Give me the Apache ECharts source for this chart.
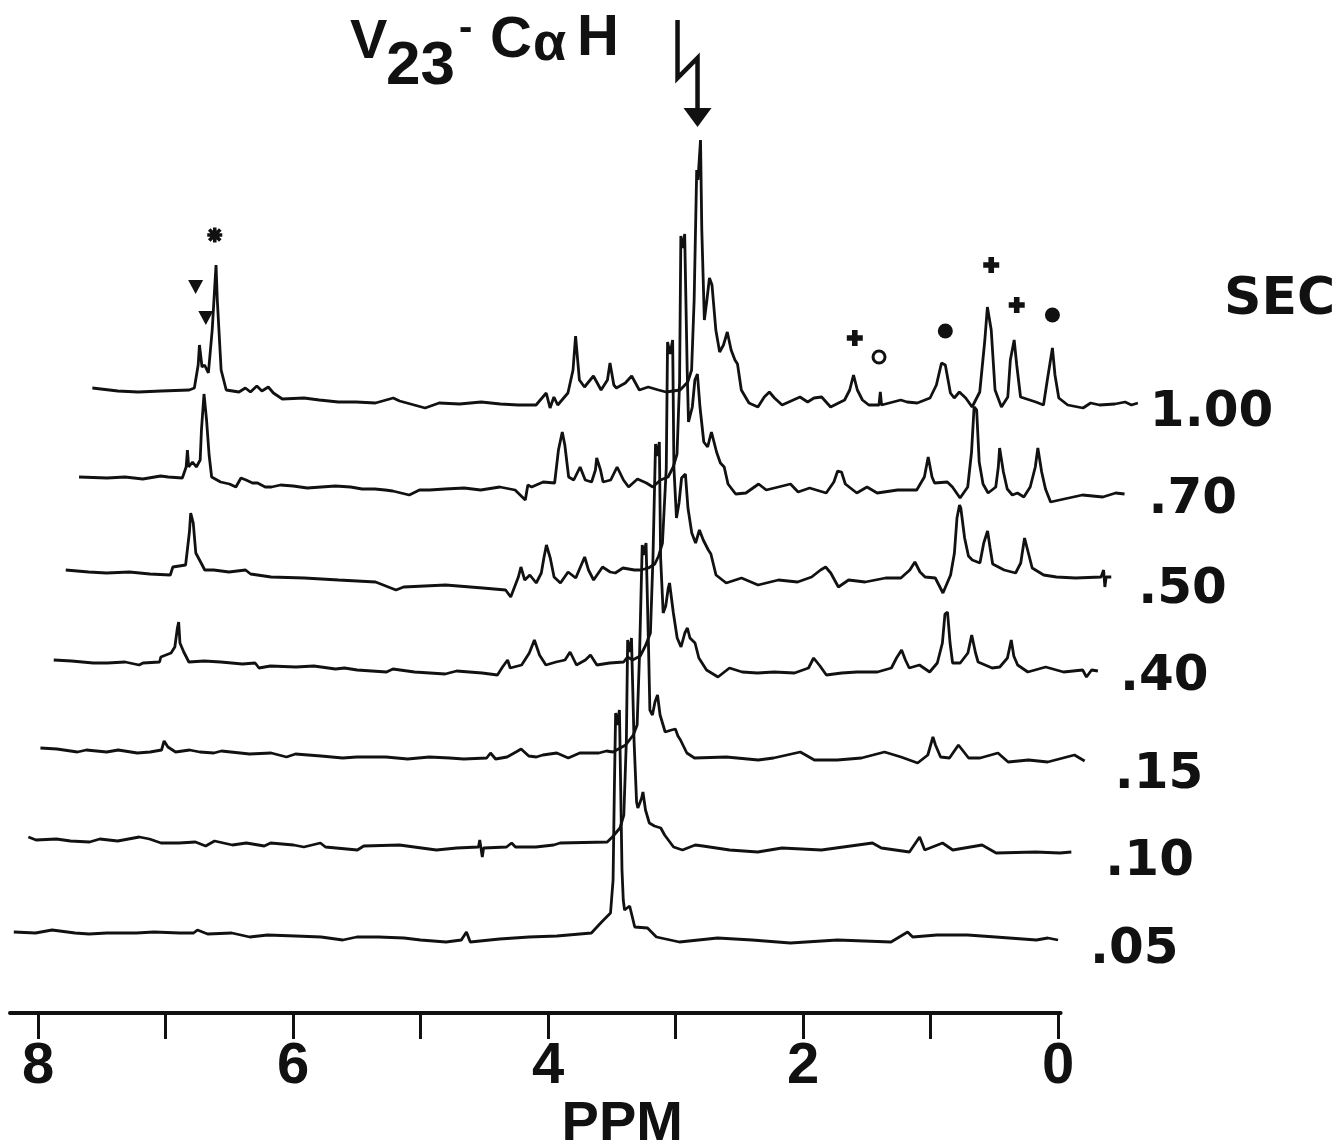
<!DOCTYPE html>
<html>
<head>
<meta charset="utf-8">
<title>V23-CαH time course</title>
<script src="https://cdn.jsdelivr.net/npm/echarts@6.0.0/dist/echarts.min.js"></script>
<style>
  html, body { margin: 0; padding: 0; background: #fff; }
  #chart { width: 1335px; height: 1144px; }
</style>
</head>
<body>
<div id="chart"></div>
<script>
// mixing times in seconds, bottom spectrum first
const secLabels = ['.05', '.10', '.15', '.40', '.50', '.70', '1.00'];

// ppm axis
const ppmTicks = [0, 1, 2, 3, 4, 5, 6, 7, 8];
const ppmLabels = [0, 2, 4, 6, 8];

// spectra as [ppm, intensity]
const spec005 = [[8.19,8],[8.02,7],[7.89,10],[7.71,7],[7.60,6],[7.46,7],[7.23,7],[7.09,8],[6.89,7],[6.78,7],[6.75,10],[6.67,6],[6.48,7],[6.34,3],[6.20,5],[5.98,4],[5.78,3],[5.61,0],[5.50,3],[5.33,3],[5.13,2],[5.00,0],[4.80,-2],[4.68,0],[4.64,8],[4.61,-2],[4.38,1],[4.15,3],[3.93,4],[3.66,7],[3.58,18],[3.51,27],[3.49,60],[3.48,150],[3.47,227],[3.46,215],[3.44,230],[3.43,150],[3.42,70],[3.41,40],[3.40,30],[3.36,34],[3.32,13],[3.22,12],[3.15,3],[2.97,-2],[2.67,2],[2.40,0],[2.10,-3],[1.73,0],[1.31,-2],[1.18,8],[1.14,3],[0.95,5],[0.71,5],[0.49,3],[0.17,0],[0.08,2],[0.00,0]];
const spec010 = [[8.18,13],[8.12,10],[7.96,11],[7.85,9],[7.70,8],[7.62,11],[7.48,9],[7.31,13],[7.23,11],[7.14,7],[7.00,7],[6.87,8],[6.79,4],[6.72,9],[6.58,5],[6.47,7],[6.33,4],[6.28,7],[6.10,5],[6.02,3],[5.89,7],[5.85,3],[5.60,0],[5.55,4],[5.27,5],[4.98,0],[4.82,2],[4.65,3],[4.64,10],[4.62,-7],[4.61,2],[4.43,3],[4.39,7],[4.36,3],[4.20,3],[4.06,5],[4.01,7],[3.64,8],[3.60,13],[3.54,22],[3.51,35],[3.49,110],[3.48,210],[3.46,198],[3.45,212],[3.43,110],[3.41,48],[3.40,42],[3.37,52],[3.36,58],[3.34,40],[3.31,27],[3.27,24],[3.22,22],[3.19,15],[3.12,3],[3.05,0],[2.95,5],[2.89,4],[2.68,0],[2.46,-2],[2.27,2],[1.96,0],[1.56,7],[1.49,2],[1.27,-2],[1.19,13],[1.15,0],[1.01,7],[0.93,0],[0.70,5],[0.59,-3],[0.28,-2],[0.09,-3],[0.00,-2]];
const spec015 = [[8.19,12],[8.06,11],[7.90,8],[7.83,10],[7.67,8],[7.58,10],[7.43,7],[7.33,8],[7.24,10],[7.22,19],[7.19,13],[7.13,8],[7.02,10],[6.94,8],[6.83,7],[6.77,9],[6.55,6],[6.38,7],[6.26,3],[6.19,6],[5.99,4],[5.82,2],[5.71,3],[5.48,3],[5.31,1],[5.14,3],[4.98,2],[4.87,1],[4.69,2],[4.66,7],[4.62,1],[4.53,3],[4.46,8],[4.42,11],[4.36,4],[4.30,3],[4.25,5],[4.14,7],[4.05,2],[3.96,7],[3.81,7],[3.75,9],[3.70,8],[3.60,15],[3.54,25],[3.51,35],[3.49,110],[3.47,215],[3.46,205],[3.44,217],[3.42,110],[3.41,50],[3.39,45],[3.37,58],[3.35,65],[3.33,45],[3.29,28],[3.24,30],[3.21,31],[3.19,24],[3.17,20],[3.12,7],[3.06,2],[2.81,3],[2.56,0],[2.44,2],[2.23,8],[2.12,0],[1.94,0],[1.75,2],[1.57,8],[1.44,3],[1.31,-3],[1.23,5],[1.19,23],[1.17,15],[1.13,3],[1.06,2],[0.99,15],[0.91,2],[0.82,2],[0.68,7],[0.60,-2],[0.44,0],[0.29,-2],[0.08,5],[0.00,-1]];
const spec040 = [[8.19,8],[8.05,7],[7.88,5],[7.77,5],[7.63,6],[7.52,3],[7.49,5],[7.36,6],[7.35,11],[7.27,15],[7.24,21],[7.22,40],[7.21,46],[7.20,25],[7.17,16],[7.13,6],[7.01,7],[6.88,6],[6.71,4],[6.61,5],[6.58,0],[6.49,2],[6.29,1],[6.15,2],[5.98,-1],[5.91,0],[5.81,-2],[5.58,-4],[5.53,-1],[5.36,-4],[5.12,-6],[5.03,-3],[4.83,-5],[4.71,-7],[4.67,1],[4.63,8],[4.61,0],[4.52,3],[4.46,15],[4.42,28],[4.38,13],[4.33,3],[4.25,6],[4.18,8],[4.14,16],[4.09,3],[4.02,8],[3.98,13],[3.93,3],[3.83,5],[3.72,6],[3.69,11],[3.65,8],[3.59,12],[3.55,22],[3.51,35],[3.49,110],[3.47,224],[3.46,212],[3.44,226],[3.43,110],[3.41,55],[3.39,62],[3.37,80],[3.36,85],[3.33,55],[3.30,30],[3.27,21],[3.24,35],[3.22,40],[3.20,30],[3.16,25],[3.13,10],[3.07,-2],[2.98,-9],[2.89,0],[2.79,-4],[2.67,-5],[2.54,-4],[2.38,-5],[2.27,0],[2.23,10],[2.18,2],[2.13,-7],[2.01,-5],[1.89,-4],[1.73,-4],[1.62,0],[1.58,10],[1.54,18],[1.51,8],[1.48,0],[1.40,3],[1.32,-4],[1.26,5],[1.22,25],[1.20,54],[1.18,56],[1.16,25],[1.14,5],[1.08,5],[1.02,15],[0.99,33],[0.96,15],[0.94,6],[0.83,0],[0.77,1],[0.71,10],[0.68,28],[0.66,12],[0.63,3],[0.55,-4],[0.41,1],[0.27,-4],[0.12,-2],[0.09,-9],[0.05,-2],[0.00,-3]];
const spec050 = [[8.20,8],[8.02,6],[7.88,5],[7.70,6],[7.54,4],[7.38,3],[7.36,11],[7.26,13],[7.23,46],[7.22,65],[7.20,55],[7.18,25],[7.13,13],[7.11,8],[7.04,8],[6.92,6],[6.79,8],[6.75,4],[6.59,1],[6.33,0],[6.06,-2],[5.77,-4],[5.61,-12],[5.55,-9],[5.22,-7],[4.93,-10],[4.75,-12],[4.71,-19],[4.65,1],[4.63,11],[4.60,-2],[4.56,3],[4.51,-5],[4.47,5],[4.45,20],[4.43,33],[4.40,20],[4.37,1],[4.32,-5],[4.26,6],[4.20,0],[4.16,12],[4.13,21],[4.10,8],[4.06,-2],[3.99,11],[3.93,6],[3.89,5],[3.83,10],[3.74,8],[3.69,8],[3.63,10],[3.58,14],[3.55,22],[3.52,35],[3.49,110],[3.48,236],[3.46,224],[3.44,238],[3.43,110],[3.41,60],[3.39,75],[3.37,100],[3.34,104],[3.32,70],[3.29,45],[3.26,35],[3.23,48],[3.20,38],[3.16,28],[3.14,24],[3.10,3],[3.02,-5],[2.90,0],[2.77,-7],[2.61,-2],[2.46,-4],[2.35,1],[2.28,8],[2.24,11],[2.20,5],[2.14,-9],[2.06,-2],[1.93,-4],[1.77,0],[1.65,0],[1.58,8],[1.54,16],[1.50,6],[1.46,1],[1.38,0],[1.32,-15],[1.26,3],[1.23,25],[1.21,60],[1.19,73],[1.18,70],[1.15,40],[1.12,22],[1.09,18],[1.03,15],[1.00,35],[0.97,47],[0.95,30],[0.93,14],[0.84,8],[0.75,5],[0.71,15],[0.68,40],[0.65,25],[0.62,10],[0.53,3],[0.43,1],[0.28,0],[0.08,1],[0.06,8],[0.05,-9],[0.04,1],[0.00,1]];
const spec070 = [[8.20,15],[7.98,14],[7.84,15],[7.70,13],[7.56,16],[7.50,15],[7.39,14],[7.36,25],[7.35,42],[7.34,25],[7.31,30],[7.28,25],[7.25,32],[7.24,62],[7.22,98],[7.20,72],[7.18,37],[7.16,15],[7.09,10],[7.02,8],[6.97,5],[6.93,14],[6.89,12],[6.84,9],[6.80,9],[6.74,5],[6.69,5],[6.62,7],[6.52,6],[6.41,4],[6.30,5],[6.19,6],[6.07,5],[5.98,3],[5.88,3],[5.80,2],[5.74,1],[5.61,-3],[5.53,2],[5.45,2],[5.33,3],[5.18,4],[5.05,2],[4.90,5],[4.78,2],[4.70,-8],[4.68,7],[4.65,5],[4.56,10],[4.47,9],[4.44,42],[4.41,60],[4.39,47],[4.36,15],[4.32,12],[4.27,25],[4.23,12],[4.18,10],[4.15,22],[4.14,34],[4.11,22],[4.09,10],[4.03,12],[3.98,25],[3.93,12],[3.89,5],[3.82,13],[3.75,9],[3.70,5],[3.64,12],[3.58,15],[3.54,25],[3.51,38],[3.49,110],[3.48,256],[3.46,244],[3.45,258],[3.43,120],[3.42,70],[3.39,85],[3.37,112],[3.35,118],[3.33,85],[3.30,50],[3.27,45],[3.24,60],[3.20,40],[3.17,29],[3.14,25],[3.11,8],[3.05,-2],[2.97,-1],[2.87,8],[2.81,2],[2.62,8],[2.56,0],[2.47,4],[2.34,-1],[2.28,10],[2.25,21],[2.22,20],[2.19,8],[2.10,-1],[2.02,5],[1.94,-1],[1.78,2],[1.63,2],[1.57,15],[1.54,35],[1.51,15],[1.49,9],[1.39,10],[1.35,5],[1.29,-6],[1.23,5],[1.20,40],[1.18,85],[1.16,82],[1.14,30],[1.11,8],[1.07,-1],[1.01,5],[0.99,25],[0.98,44],[0.95,20],[0.92,3],[0.88,-3],[0.84,-1],[0.79,-5],[0.74,5],[0.70,25],[0.68,44],[0.65,20],[0.62,3],[0.58,-10],[0.51,-8],[0.33,-3],[0.17,-5],[0.07,-1],[0.00,-2]];
const spec100 = [[8.20,17],[8.00,14],[7.84,13],[7.66,14],[7.44,15],[7.40,17],[7.37,40],[7.36,60],[7.34,38],[7.32,40],[7.29,32],[7.26,75],[7.23,140],[7.22,105],[7.19,35],[7.15,15],[7.05,13],[7.00,17],[6.96,13],[6.91,19],[6.87,14],[6.82,18],[6.78,12],[6.71,6],[6.54,7],[6.42,5],[6.27,3],[6.13,3],[5.98,2],[5.84,7],[5.79,4],[5.59,-3],[5.48,2],[5.32,1],[5.15,3],[5.00,1],[4.86,0],[4.72,0],[4.64,12],[4.61,-3],[4.58,8],[4.55,0],[4.47,12],[4.43,35],[4.41,69],[4.38,25],[4.34,18],[4.27,29],[4.21,15],[4.16,25],[4.14,42],[4.11,20],[4.09,17],[4.02,22],[3.97,29],[3.91,15],[3.84,18],[3.76,15],[3.70,13],[3.59,15],[3.53,23],[3.50,35],[3.48,105],[3.46,235],[3.45,225],[3.43,265],[3.42,175],[3.40,85],[3.38,105],[3.36,127],[3.34,120],[3.31,75],[3.28,53],[3.25,60],[3.22,73],[3.19,55],[3.16,45],[3.14,41],[3.11,15],[3.05,2],[2.98,-2],[2.93,8],[2.89,13],[2.85,7],[2.79,0],[2.65,8],[2.59,3],[2.54,7],[2.48,8],[2.41,-2],[2.30,5],[2.26,15],[2.23,30],[2.20,15],[2.16,5],[2.11,0],[2.03,0],[2.02,13],[2.01,0],[1.86,5],[1.81,3],[1.73,2],[1.63,7],[1.58,20],[1.54,42],[1.51,40],[1.47,12],[1.44,7],[1.40,13],[1.35,7],[1.30,-2],[1.24,13],[1.20,65],[1.18,98],[1.15,75],[1.12,15],[1.07,-2],[1.02,8],[1.00,45],[0.97,65],[0.95,40],[0.92,8],[0.80,3],[0.74,0],[0.71,25],[0.67,57],[0.65,30],[0.62,7],[0.55,0],[0.43,-3],[0.37,2],[0.30,0],[0.18,1],[0.10,3],[0.05,0],[0.00,2]];

const spectra = [spec005, spec010, spec015, spec040, spec050, spec070, spec100];

// assignment marks drawn above peaks of the 1.00 s spectrum: [ppm, height, kind]
const peakMarks = [[7.39,118,'tri'],[7.31,87,'tri'],[7.24,170,'star'],[2.22,67,'plus'],[2.03,48,'ring'],[1.51,74,'dot'],[1.15,140,'plus'],[0.95,100,'plus'],[0.67,90,'dot']];

// ---- layout ----
const INK = '#111';
const PX_PER_PPM = 127.5;
const X_MIN = -0.02, X_MAX = 8.22;
const GRID_LEFT = 10, SKEW_X = 13.3;
const baselineY = [940, 850, 760, 668, 578, 492, 405];
const Y_MAX = 270, Y_MIN = -30;
const AXIS_Y = 1013;
const labelOffsets = [[32, 10], [34, 10], [30, 14], [22, 6], [27, 13], [24, 6], [12, 10]];

const ASTERISK = 'path://M7.6,0h4.8v20h-4.8z M0,7.6h20v4.8h-20z M4.3,0.9L19.1,15.7L15.7,19.1L0.9,4.3z M15.7,0.9L19.1,4.3L4.3,19.1L0.9,15.7z';
const PLUS = 'path://M6.5,0h7v6.5h6.5v7h-6.5v6.5h-7v-6.5h-6.5v-7h6.5z';
const markStyle = {
  tri: { symbol: 'triangle', symbolSize: [15, 14], symbolRotate: 180 },
  star: { symbol: ASTERISK, symbolSize: 15 },
  plus: { symbol: PLUS, symbolSize: 16 },
  dot: { symbol: 'circle', symbolSize: 15 },
  ring: { symbol: 'circle', symbolSize: 12, itemStyle: { color: '#fff', borderColor: INK, borderWidth: 3 } }
};

const chart = echarts.init(document.getElementById('chart'));

const gridW = (X_MAX - X_MIN) * PX_PER_PPM;
const grids = [], xAxes = [], yAxes = [], series = [];

spectra.forEach((data, i) => {
  const isBottom = i === 0;
  const yMin = isBottom ? -(AXIS_Y - baselineY[0]) : Y_MIN;
  grids.push({
    left: GRID_LEFT + SKEW_X * i,
    width: gridW,
    top: baselineY[i] - Y_MAX,
    height: Y_MAX - yMin,
    outerBoundsMode: 'none',
    containLabel: false
  });
  xAxes.push({
    gridIndex: i,
    type: 'value',
    min: X_MIN,
    max: X_MAX,
    inverse: true,
    show: isBottom,
    splitLine: { show: false },
    axisLine: { show: true, onZero: false, lineStyle: { color: INK, width: 4 } },
    axisTick: { show: true, length: 26, lineStyle: { color: INK, width: 3 }, customValues: ppmTicks },
    axisLabel: {
      customValues: ppmLabels,
      margin: 25,
      color: INK,
      fontFamily: 'Liberation Sans',
      fontWeight: 'bold',
      fontSize: 58
    },
    name: isBottom ? 'PPM' : '',
    nameLocation: 'middle',
    nameGap: 82,
    nameTextStyle: {
      color: INK,
      fontFamily: 'Liberation Sans',
      fontWeight: 'bold',
      fontSize: 56,
      padding: [0, 0, 0, 174]
    }
  });
  yAxes.push({
    gridIndex: i,
    type: 'value',
    min: yMin,
    max: Y_MAX,
    show: false,
    splitLine: { show: false }
  });
  const s = {
    type: 'line',
    name: secLabels[i],
    xAxisIndex: i,
    yAxisIndex: i,
    data: data,
    symbol: 'none',
    clip: false,
    silent: true,
    lineStyle: { color: INK, width: 2.8 },
    endLabel: {
      show: true,
      formatter: (p) => p.seriesName,
      distance: 0,
      offset: labelOffsets[i],
      align: 'left',
      verticalAlign: 'middle',
      color: INK,
      fontFamily: 'DejaVu Sans',
      fontWeight: 'bold',
      fontSize: 50
    }
  };
  if (i === spectra.length - 1) {
    s.markPoint = {
      silent: true,
      label: { show: false },
      itemStyle: { color: INK },
      data: peakMarks.map(([x, y, kind]) => Object.assign({ coord: [x, y] }, markStyle[kind]))
    };
  }
  series.push(s);
});

chart.setOption({
  animation: false,
  backgroundColor: '#fff',
  grid: grids,
  xAxis: xAxes,
  yAxis: yAxes,
  series: series
});

// heading, SEC caption and the arrow pointing at the V23 CαH peak
const titleFont = (size) => 'bold ' + size + 'px "Liberation Sans"';
const txt = (id, x, y, text, font) => ({
  type: 'text', id: id, x: x, y: y, silent: true,
  style: { text: text, font: font, fill: INK, align: 'left', verticalAlign: 'top' }
});

const tip = chart.convertToPixel({ seriesIndex: spectra.length - 1 }, [3.43, 265]);
const ax = tip[0] - 3, ay = tip[1] - 13;

chart.setOption({
  graphic: [
    txt('tV', 350, 15, 'V', titleFont(56)),
    txt('t23', 386, 36, '23', titleFont(62)),
    txt('tDash', 459, 9, '-', titleFont(40)),
    txt('tC', 490, 12, 'C', titleFont(58)),
    txt('tAlpha', 533, 18, 'α', titleFont(54)),
    txt('tH', 577, 10, 'H', titleFont(58)),
    txt('sec', 1224, 274, 'SEC', 'bold 52px "DejaVu Sans"'),
    {
      type: 'polyline', id: 'arrowShaft', silent: true,
      shape: { points: [[ax - 20, ay - 107], [ax - 20, ay - 49], [ax, ay - 69], [ax, ay - 16]] },
      style: { stroke: INK, lineWidth: 4.5, fill: null, lineJoin: 'miter' }
    },
    {
      type: 'polygon', id: 'arrowHead', silent: true,
      shape: { points: [[ax - 14, ay - 19], [ax + 14, ay - 19], [ax, ay]] },
      style: { fill: INK }
    }
  ]
});
</script>
</body>
</html>
